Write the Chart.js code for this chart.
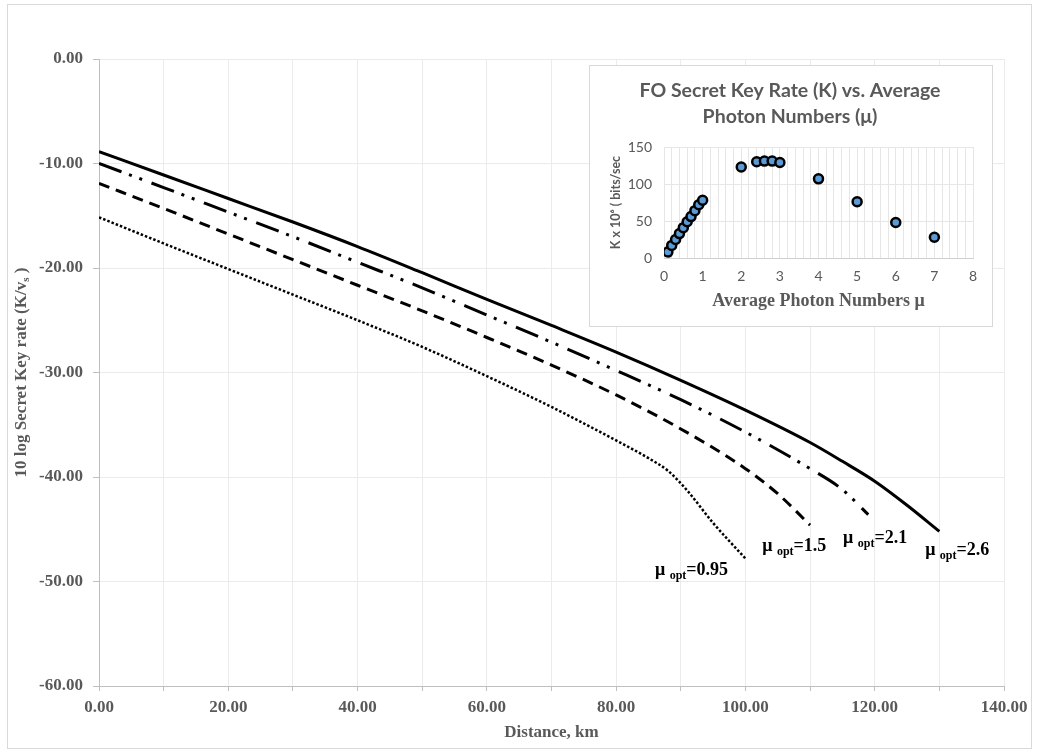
<!DOCTYPE html>
<html>
<head>
<meta charset="utf-8">
<title>Secret Key Rate vs Distance</title>
<script src="https://cdn.jsdelivr.net/npm/chart.js@4.4.1/dist/chart.umd.min.js"></script>
<style>
    html, body { margin: 0; padding: 0; background: #fff; }
    #wrap { position: relative; width: 1037px; height: 753px; }
    #mainChart { position: absolute; left: 0; top: 0; }
    #insetBox {
        position: absolute; left: 589px; top: 65px; width: 404px; height: 262px;
        box-sizing: border-box; border: 1px solid #d9d9d9; background: #fff;
    }
</style>
</head>
<body>
<div id="wrap">
    <canvas id="mainChart" width="1037" height="753"></canvas>
    <div id="insetBox"><canvas id="insetChart" width="402" height="260"></canvas></div>
</div>
<script>
/* ── Data: 10 log secret key rate vs distance ─────────── */
const distMu26 = [0, 10, 20, 30, 40, 50, 60, 70, 80, 90, 100, 110, 115, 120, 125, 130];
const rateMu26 = [-8.87, -11.1, -13.35, -15.6, -17.95, -20.45, -23.0, -25.5, -28.05, -30.75, -33.6, -36.7, -38.5, -40.4, -42.7, -45.2];

const distMu21 = [0, 10, 20, 30, 40, 50, 60, 70, 80, 90, 100, 110, 115, 119];
const rateMu21 = [-10.0, -12.3, -14.65, -17.0, -19.45, -21.9, -24.5, -27.1, -29.8, -32.6, -35.7, -39.2, -41.2, -43.6];

const distMu15 = [0, 10, 20, 30, 40, 50, 60, 70, 80, 90, 100, 105, 110];
const rateMu15 = [-11.9, -14.3, -16.75, -19.2, -21.65, -24.1, -26.65, -29.3, -32.15, -35.4, -39.2, -41.6, -44.6];

const distMu095 = [0, 10, 20, 30, 40, 50, 60, 70, 80, 85, 88, 91, 95, 100];
const rateMu095 = [-15.15, -17.65, -20.1, -22.55, -25.0, -27.55, -30.35, -33.3, -36.5, -38.2, -39.4, -41.3, -44.4, -47.8];

// curve end labels (mu_opt), anchored in data units
const muLabels = ['0.95', '1.5', '2.1', '2.6'];
const muLabelX = [86.0, 102.6, 115.1, 127.8];
const muLabelY = [-49.4, -47.1, -46.3, -47.5];

/* ── Data: inset, key rate vs average photon number ───── */
const photonMu = [0.1, 0.2, 0.3, 0.4, 0.5, 0.6, 0.7, 0.8, 0.9, 1.0, 2.0, 2.4, 2.6, 2.8, 3.0, 4.0, 5.0, 6.0, 7.0];
const keyRateK = [8, 17, 25, 33, 41, 49, 56, 64, 72, 78, 123, 130, 131, 131, 129, 107, 76, 48, 28];

const SERIF = '"Liberation Serif", "Times New Roman", serif';
const SANS = 'Lato, "Open Sans", sans-serif';
const GREY = '#595959';

const toPts = (xs, ys) => xs.map((x, i) => ({ x: x, y: ys[i] }));

/* ── Main chart ───────────────────────────────────────── */
const mainDecor = {
    id: 'mainDecor',
    afterDraw(chart) {
        const ctx = chart.ctx;
        const xs = chart.scales.x, ys = chart.scales.y;
        const area = chart.chartArea;
        ctx.save();

        // outer frame
        ctx.strokeStyle = '#d9d9d9';
        ctx.lineWidth = 1;
        ctx.strokeRect(7.5, 4.5, 1024, 744);

        // x title
        ctx.fillStyle = GREY;
        ctx.font = 'bold 17px ' + SERIF;
        ctx.textAlign = 'center';
        ctx.textBaseline = 'middle';
        ctx.fillText('Distance, km', (area.left + area.right) / 2, 733);

        // y title with subscript
        const parts = [
            { t: '10 log Secret Key rate (K/v', f: 'bold 17px ' + SERIF, dy: 0 },
            { t: 's', f: 'bold 11px ' + SERIF, dy: 4 },
            { t: ' )', f: 'bold 17px ' + SERIF, dy: 0 }
        ];
        let total = 0;
        parts.forEach(p => { ctx.font = p.f; p.w = ctx.measureText(p.t).width; total += p.w; });
        ctx.translate(22, (area.top + area.bottom) / 2);
        ctx.rotate(-Math.PI / 2);
        ctx.textAlign = 'left';
        let cx = -total / 2;
        parts.forEach(p => { ctx.font = p.f; ctx.fillText(p.t, cx, p.dy); cx += p.w; });
        ctx.setTransform(1, 0, 0, 1, 0, 0);

        // mu_opt labels
        ctx.fillStyle = '#000';
        ctx.textAlign = 'left';
        ctx.textBaseline = 'alphabetic';
        muLabels.forEach((val, i) => {
            const px = xs.getPixelForValue(muLabelX[i]);
            const py = ys.getPixelForValue(muLabelY[i]);
            ctx.font = 'bold 18px ' + SERIF;
            ctx.fillText('\u03bc', px, py);
            let w = ctx.measureText('\u03bc ').width;
            ctx.font = 'bold 12px ' + SERIF;
            ctx.fillText('opt', px + w, py + 4);
            w += ctx.measureText('opt').width;
            ctx.font = 'bold 18px ' + SERIF;
            ctx.fillText('=' + val, px + w, py);
        });
        ctx.restore();
    }
};

const lineBase = { pointRadius: 0, borderColor: '#000', fill: false, tension: 0.4, cubicInterpolationMode: 'monotone' };

new Chart(document.getElementById('mainChart'), {
    type: 'line',
    data: {
        datasets: [
            Object.assign({ label: 'mu 2.6', data: toPts(distMu26, rateMu26), borderWidth: 3 }, lineBase),
            Object.assign({ label: 'mu 2.1', data: toPts(distMu21, rateMu21), borderWidth: 3, borderDash: [24, 8, 3, 8, 3, 10] }, lineBase),
            Object.assign({ label: 'mu 1.5', data: toPts(distMu15, rateMu15), borderWidth: 3, borderDash: [11, 7] }, lineBase),
            Object.assign({ label: 'mu 0.95', data: toPts(distMu095, rateMu095), borderWidth: 2.5, borderDash: [2.5, 2] }, lineBase)
        ]
    },
    options: {
        responsive: false,
        animation: false,
        layout: { padding: { top: 59, right: 33, bottom: 0, left: 0 } },
        plugins: { legend: { display: false }, tooltip: { enabled: false } },
        scales: {
            x: {
                type: 'linear', min: 0, max: 140,
                afterFit: s => { s.height = 67; },
                grid: { color: '#ebebeb', tickColor: '#bfbfbf', tickLength: 5 },
                border: { color: '#bfbfbf' },
                ticks: {
                    stepSize: 10, autoSkip: false, maxRotation: 0, padding: 6,
                    color: GREY, font: { family: SERIF, size: 17, weight: 'bold' },
                    callback: v => (v % 20 === 0 ? v.toFixed(2) : '')
                }
            },
            y: {
                min: -60, max: 0,
                afterFit: s => { s.width = 99; },
                grid: { color: '#ebebeb', tickColor: '#bfbfbf', tickLength: 6 },
                border: { color: '#bfbfbf' },
                ticks: {
                    stepSize: 10, padding: 10,
                    color: GREY, font: { family: SERIF, size: 17, weight: 'bold' },
                    callback: v => v.toFixed(2)
                }
            }
        }
    },
    plugins: [mainDecor]
});

/* ── Inset chart ──────────────────────────────────────── */
const insetDecor = {
    id: 'insetDecor',
    afterDraw(chart) {
        const ctx = chart.ctx;
        const area = chart.chartArea;
        ctx.save();
        ctx.fillStyle = GREY;
        ctx.textAlign = 'center';
        ctx.textBaseline = 'middle';
        ctx.font = 'bold 19.5px ' + SANS;
        ctx.fillText('FO Secret Key Rate (K) vs. Average', 200, 25);
        ctx.fillText('Photon Numbers (\u03bc)', 200, 51);

        ctx.font = 'bold 18px ' + SERIF;
        ctx.fillText('Average Photon Numbers \u03bc', (area.left + area.right) / 2, 235);

        ctx.translate(26, (area.top + area.bottom) / 2);
        ctx.rotate(-Math.PI / 2);
        ctx.font = 'bold 12.5px ' + SANS;
        ctx.fillText('K x 10\u2076 ( bits/sec', 0, 0);
        ctx.restore();
    }
};

new Chart(document.getElementById('insetChart'), {
    type: 'scatter',
    data: {
        datasets: [{
            label: 'K',
            data: toPts(photonMu, keyRateK),
            pointRadius: 4.5,
            pointBorderWidth: 2.5,
            pointBorderColor: '#000',
            pointBackgroundColor: '#5b9bd5'
        }]
    },
    options: {
        responsive: false,
        animation: false,
        layout: { padding: { top: 81, right: 19, bottom: 0, left: 0 } },
        plugins: { legend: { display: false }, tooltip: { enabled: false } },
        scales: {
            x: {
                type: 'linear', min: 0, max: 8,
                afterFit: s => { s.height = 68; },
                grid: { color: '#e6e6e6', drawTicks: false },
                border: { color: '#d0d0d0' },
                ticks: {
                    stepSize: 0.2, autoSkip: false, maxRotation: 0, padding: 10,
                    color: GREY, font: { family: SANS, size: 14 },
                    callback: v => (Math.abs(v - Math.round(v)) < 1e-6 ? Math.round(v) : '')
                }
            },
            y: {
                min: 0, max: 150,
                afterFit: s => { s.width = 74; },
                grid: { color: '#e6e6e6', drawTicks: false },
                border: { display: false },
                ticks: {
                    stepSize: 50, padding: 12,
                    color: GREY, font: { family: SANS, size: 14 }
                }
            }
        }
    },
    plugins: [insetDecor]
});
</script>
</body>
</html>
